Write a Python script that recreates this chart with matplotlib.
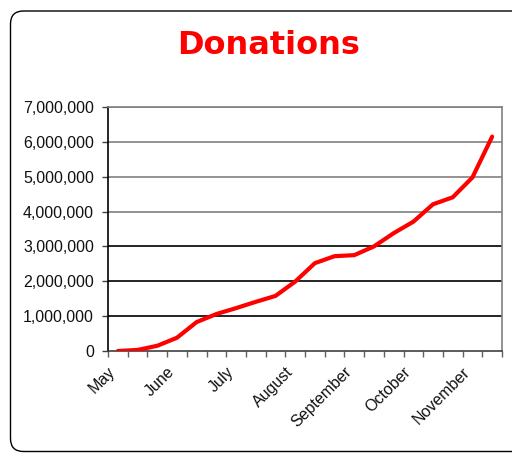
import numpy as np
import matplotlib
matplotlib.use("Agg")
import matplotlib.pyplot as plt
import matplotlib.transforms as mtransforms
from matplotlib.patches import FancyBboxPatch
from matplotlib.ticker import FuncFormatter

plt.rcParams.update({"font.family": ["Liberation Sans", "DejaVu Sans"]})

# ---------------------------------------------------------------------------
# data — one point per half-month period
# ---------------------------------------------------------------------------
months = ["May", "June", "July", "August", "September", "October", "November"]
label_every = 3
donations = [0, 30_000, 150_000, 380_000, 830_000, 1_060_000, 1_230_000,
             1_410_000, 1_580_000, 1_990_000, 2_520_000, 2_720_000, 2_750_000,
             3_000_000, 3_380_000, 3_710_000, 4_210_000, 4_410_000, 4_980_000,
             6_150_000]
yticks = [0, 1_000_000, 2_000_000, 3_000_000, 4_000_000, 5_000_000,
          6_000_000, 7_000_000]

n = len(donations)
x = np.arange(n)

fig = plt.figure(figsize=(5.12, 4.54), dpi=100)

# rounded chart-area border (display coords, px)
border = FancyBboxPatch((10.5, 2.5), 520, 440.5,
                        boxstyle="round,pad=0,rounding_size=13",
                        transform=None, fill=False, ec="black", lw=1.0,
                        zorder=0)
fig.patches.append(border)

ax = fig.add_axes([108 / 512, 1 - 351 / 454, 394 / 512, 244 / 454])

for v in yticks[1:]:
    c = "black" if v <= 3_000_000 else "#808080"
    ax.axhline(v, color=c, lw=1.2, zorder=1)

ax.plot(x, donations, color="#ff0000", lw=3, solid_capstyle="round",
        solid_joinstyle="round", zorder=3)

ax.set_xlim(-0.5, n - 0.5)
ax.set_ylim(0, 7_000_000)
ax.set_yticks(yticks)
ax.yaxis.set_major_formatter(FuncFormatter(lambda v, p: f"{int(v):,}"))
ax.tick_params(axis="y", length=4.5, width=1, color="#404040",
               labelsize=11.5, pad=5.5, labelcolor="#111111")

# category axis: ticks between categories, labels every 3rd category
ax.set_xticks(np.arange(n + 1) - 0.5)
ax.set_xticklabels([])
ax.tick_params(axis="x", which="major", length=4.5, width=1, color="#606060")
ax.set_xticks(x[::label_every], minor=True)
ax.set_xticklabels(months, minor=True, rotation=45, ha="right",
                   rotation_mode="anchor", fontsize=11.5, color="#111111")
ax.tick_params(axis="x", which="minor", length=0, pad=9)
shift = mtransforms.ScaledTranslation(-10 / 100, -1 / 100, fig.dpi_scale_trans)
for lab in ax.get_xticklabels(minor=True):
    lab.set_transform(lab.get_transform() + shift)

ax.spines["left"].set_color("black")
ax.spines["bottom"].set_color("#404040")
ax.spines["top"].set_color("#808080")
ax.spines["right"].set_color("#808080")
for s in ax.spines.values():
    s.set_linewidth(1.2)

fig.text(269 / 512, 1 - 45 / 454, "Donations", ha="center", va="center",
         color="#ff0000", fontsize=23, fontweight="bold",
         family="DejaVu Sans")

fig.savefig("out.png", dpi=100)
